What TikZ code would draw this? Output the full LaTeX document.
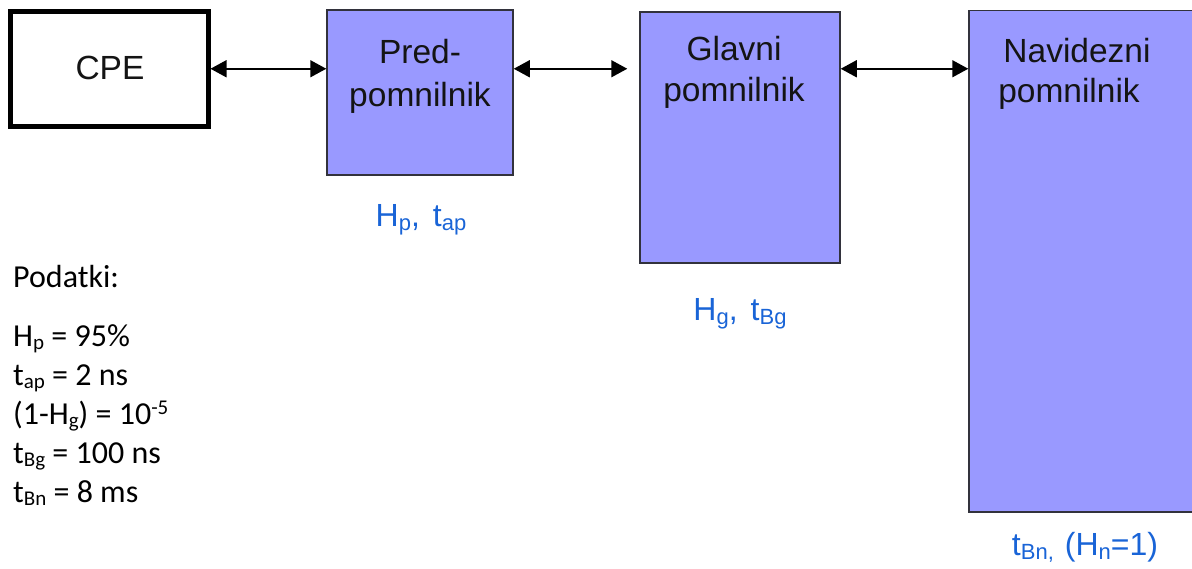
\documentclass[tikz,border=0pt]{standalone}
\usepackage{fontspec}
\usetikzlibrary{arrows.meta}
\newfontfamily\boxfont{Liberation Sans}
\newfontfamily\datafont{Carlito}
\definecolor{memfill}{RGB}{153,153,255}
\definecolor{memedge}{RGB}{50,50,60}
\definecolor{parblue}{RGB}{25,100,215}
\definecolor{ink}{RGB}{20,20,20}
% lowered / raised small text for indices
\newcommand{\bsub}[1]{\raisebox{-4pt}{\fontsize{22}{22}\selectfont #1}}
\newcommand{\dsub}[1]{\raisebox{-3pt}{\fontsize{21}{21}\selectfont #1}}
\newcommand{\dsup}[1]{\raisebox{10pt}{\fontsize{21}{21}\selectfont #1}}
\tikzset{
  cpebox/.style={draw=black, line width=5pt, fill=white, inner sep=0pt},
  membox/.style={draw=memedge, line width=1.5pt, fill=memfill, inner sep=0pt},
  boxlabel/.style={anchor=base, inner sep=0pt, text=ink, font=\boxfont\fontsize{33.5}{40}\selectfont},
  param/.style={anchor=base, inner sep=0pt, text=parblue, font=\boxfont\fontsize{32}{38}\selectfont},
  datum/.style={anchor=base west, inner sep=0pt, text=black, font=\datafont\fontsize{32}{38}\selectfont},
  link/.style={draw=black, line width=1.6pt, {Triangle[length=16pt,width=17pt]}-{Triangle[length=16pt,width=17pt]}}
}
\begin{document}
\begin{tikzpicture}[x=1pt,y=-1pt]
\clip (0,0) rectangle (1192,568);
\fill[white] (0,0) rectangle (1192,568);

% processor and the three memory levels
\node[cpebox, minimum width=197.5pt, minimum height=114.5pt] (cpe) at (109.25,68.75) {};
\node[membox, minimum width=186pt, minimum height=165pt] (pred) at (420,92.5) {};
\node[membox, minimum width=200pt, minimum height=251pt] (glavni) at (740,137.5) {};
\node[membox, minimum width=240pt, minimum height=501.5pt] (nav) at (1089,261.25) {};

% box titles
\node[boxlabel] (cpetxt) at (110,79) {CPE};
\node[boxlabel] (predA) at (420,63) {Pred-};
\node[boxlabel] (predB) at (420,106) {pomnilnik};
\node[boxlabel] (glavA) at (734,60) {Glavni};
\node[boxlabel] (glavB) at (734,101) {pomnilnik};
\node[boxlabel] (navA) at (1077,62) {Navidezni};
\node[boxlabel] (navB) at (1069,102) {pomnilnik};

% connections between levels
\draw[link] (cpe.east) -- (cpe.east -| pred.west);
\draw[link, shorten >=12pt] (pred.east |- cpe.east) -- (glavni.west |- cpe.east);
\draw[link] (glavni.east |- cpe.east) -- (nav.west |- cpe.east);

% level parameters
\node[param] (ppar) at (421,226) {H\bsub{p},\hspace{13pt}t\bsub{ap}};
\node[param] (gpar) at (740,320) {H\bsub{g},\hspace{13pt}t\bsub{Bg}};
\node[param] (npar) at (1085,555) {t\bsub{Bn,}\hspace{11pt}(H\bsub{n}=1)};

% given data
\node[datum] (dhead) at (13,287) {Podatki:};
\node[datum] (d1) at (13,346) {H\dsub{p} = 95\%};
\node[datum] (d2) at (13,385) {t\dsub{ap} = 2 ns};
\node[datum] (d3) at (13,424) {(1-H\dsub{g}) = 10\dsup{-5}};
\node[datum] (d4) at (13,463) {t\dsub{Bg} = 100 ns};
\node[datum] (d5) at (13,502) {t\dsub{Bn} = 8 ms};
\end{tikzpicture}
\end{document}
